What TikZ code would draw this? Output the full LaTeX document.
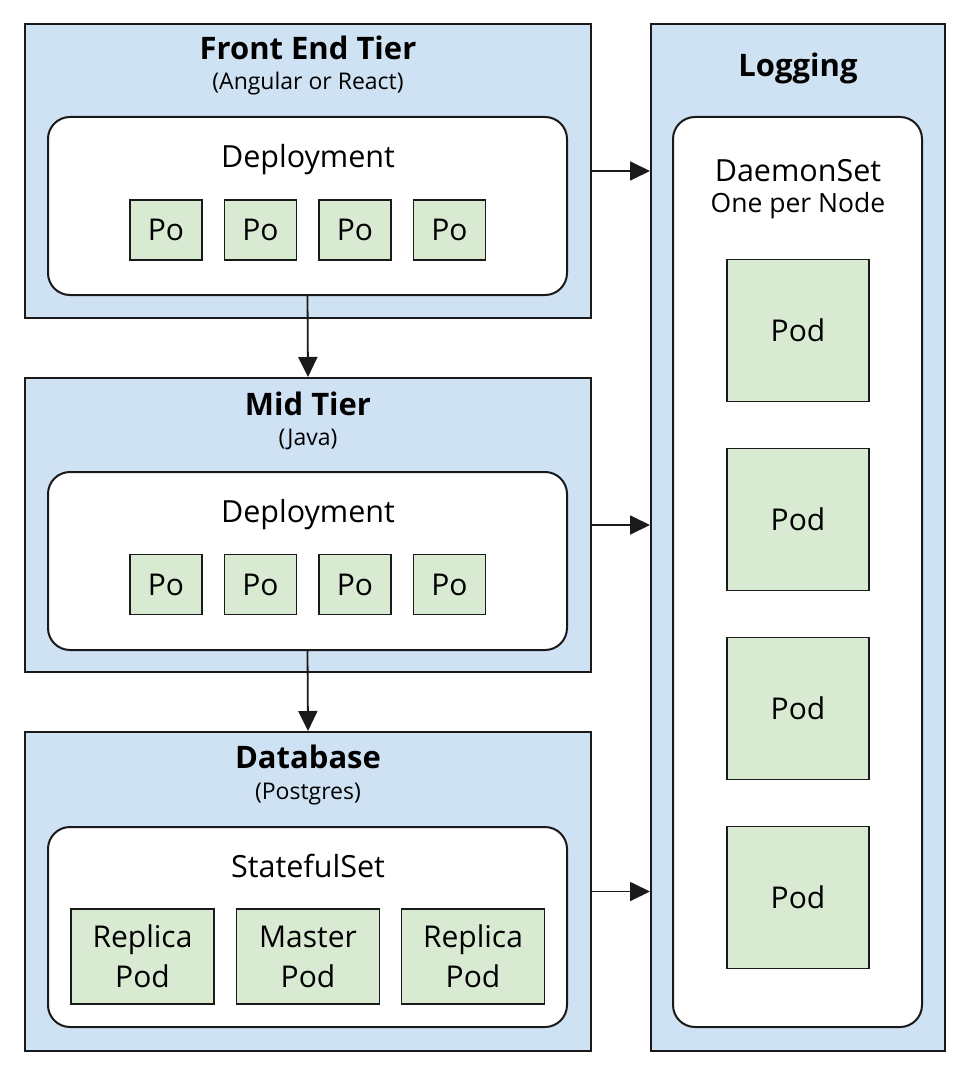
\documentclass[tikz,border=0pt]{standalone}
\usepackage{fontspec}
\setmainfont{Open Sans}
\usetikzlibrary{arrows.meta}
\definecolor{tierblue}{HTML}{CFE2F3}
\definecolor{podgreen}{HTML}{D9EAD3}
\definecolor{edge}{HTML}{1A1A1A}
\begin{document}
\begin{tikzpicture}[x=1pt,y=-1pt,
  tier/.style={draw=edge,line width=2pt,fill=tierblue,rectangle,inner sep=0pt},
  inner/.style={draw=edge,line width=2pt,fill=white,rectangle,rounded corners=22pt,inner sep=0pt},
  pod/.style={draw=edge,line width=1.8pt,fill=podgreen,rectangle,inner sep=0pt,align=center,font=\fontsize{30}{40}\selectfont},
  title/.style={anchor=base,inner sep=0pt,font=\fontsize{31}{34}\selectfont\bfseries},
  sub/.style={anchor=base,inner sep=0pt,font=\fontsize{23}{26}\selectfont},
  label/.style={anchor=base,inner sep=0pt,font=\fontsize{30.5}{34}\selectfont},
  conn/.style={draw=edge,line width=1.8pt,-{Triangle[length=20pt,width=19pt]}}]
\useasboundingbox (0,0) rectangle (970,1075);
% tiers
\node[tier,minimum width=566pt,minimum height=294pt] (fe) at (308,171) {};
\node[tier,minimum width=566pt,minimum height=294pt] (mid) at (308,525) {};
\node[tier,minimum width=566pt,minimum height=319pt] (db) at (308,891.5) {};
\node[tier,minimum width=294pt,minimum height=1027pt] (log) at (798,537.5) {};
% inner boxes
\node[inner,minimum width=519pt,minimum height=178pt] (fed) at (307.5,206) {};
\node[inner,minimum width=519pt,minimum height=178pt] (midd) at (307.5,561) {};
\node[inner,minimum width=519pt,minimum height=200pt] (dbs) at (307.5,927) {};
\node[inner,minimum width=249pt,minimum height=910pt] (logd) at (797.5,572) {};
% titles
\node[title] (fet) at (308,60) {Front End Tier};
\node[sub] (fes) at (308,90) {(Angular or React)};
\node[label] (fel) at (308,168) {Deployment};
\node[title] (midt) at (308,415) {Mid Tier};
\node[sub] (mids) at (308,445) {(Java)};
\node[label] (midl) at (308,522) {Deployment};
\node[title] (dbt) at (308,768) {Database};
\node[sub] (dbsub) at (308,799) {(Postgres)};
\node[label] (dbl) at (308,877) {StatefulSet};
\node[title] (logt) at (798,77) {Logging};
\node[label] (logl) at (798,182) {DaemonSet};
\node[anchor=base,inner sep=0pt,font=\fontsize{26.5}{30}\selectfont] (logl2) at (798,213) {One per Node};
% front end and mid tier pods
\foreach \x [count=\i] in {166,260.5,355,449.5}{
  \node[pod,minimum width=72pt,minimum height=60pt] (fp\i) at (\x,230) {Po};
  \node[pod,minimum width=72pt,minimum height=60pt] (mp\i) at (\x,584.5) {Po};
}
% database pods
\node[pod,minimum width=143pt,minimum height=95pt] (dp1) at (142.5,956.5) {Replica\\Pod};
\node[pod,minimum width=143pt,minimum height=95pt] (dp2) at (308,956.5) {Master\\Pod};
\node[pod,minimum width=143pt,minimum height=95pt] (dp3) at (473,956.5) {Replica\\Pod};
% logging pods
\foreach \y [count=\i] in {330.5,519.5,708.5,897.5}{
  \node[pod,minimum width=142pt,minimum height=142pt] (lp\i) at (798,\y) {Pod};
}
% connectors
\draw[conn] (fed.south) -- (mid.north);
\draw[conn] (midd.south) -- (db.north);
\draw[conn] (fe.east) -- (log.west |- fe.east);
\draw[conn] (mid.east) -- (log.west |- mid.east);
\draw[conn] (db.east) -- (log.west |- db.east);
\end{tikzpicture}
\end{document}
